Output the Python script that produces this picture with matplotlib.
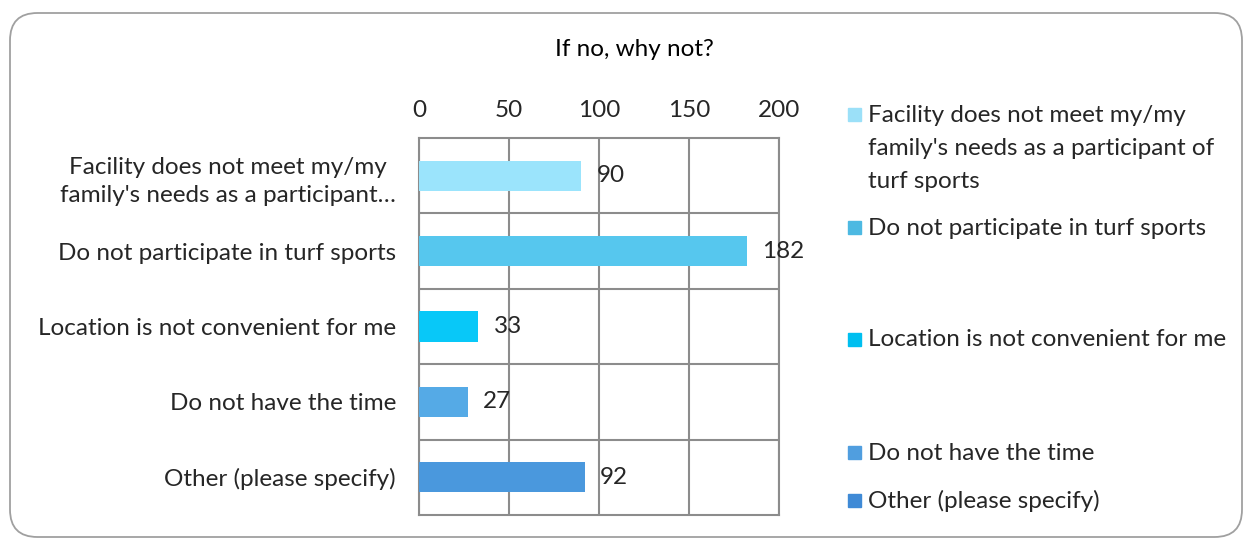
import matplotlib
matplotlib.use("Agg")
import matplotlib.pyplot as plt
from matplotlib.patches import FancyBboxPatch, Rectangle

# ---- data ----
categories = [
    "Facility does not meet my/my\nfamily's needs as a participant\u2026",
    "Do not participate in turf sports",
    "Location is not convenient for me",
    "Do not have the time",
    "Other (please specify)",
]
legend_labels = [
    "Facility does not meet my/my\nfamily's needs as a participant of\nturf sports",
    "Do not participate in turf sports",
    "Location is not convenient for me",
    "Do not have the time",
    "Other (please specify)",
]
values = [90, 182, 33, 27, 92]
x_ticks = [0, 50, 100, 150, 200]
title = "If no, why not?"

bar_colors = ["#9BE4FC", "#56C7EE", "#08C8F8", "#55AAE6", "#4A98DD"]
legend_colors = ["#9BE0F8", "#4DB9E2", "#00BFF0", "#509EDF", "#3F8AD6"]

plt.rcParams['font.family'] = ['Lato', 'DejaVu Sans']
FS = 17.5
TXT = "#262626"

W, H = 1246, 540
fig = plt.figure(figsize=(W / 100, H / 100), dpi=100)

# rounded frame
frame = FancyBboxPatch((10 / W, 3 / H), 1232 / W, 524 / H,
                       boxstyle="round,pad=0,rounding_size=0.022",
                       transform=fig.transFigure, fill=False,
                       edgecolor="#A0A0A0", linewidth=1.3,
                       mutation_aspect=W / H)
fig.patches.append(frame)

ax = fig.add_axes([419 / W, (H - 515) / H, 360 / W, 377 / H])
ypos = list(range(len(categories)))
ax.barh(ypos, values, height=0.4, color=bar_colors, zorder=3)
ax.set_xlim(0, 200)
ax.set_ylim(len(categories) - 0.5, -0.5)
ax.set_xticks(x_ticks)
ax.set_xticklabels([str(t) for t in x_ticks])
ax.xaxis.tick_top()
ax.tick_params(axis='x', length=0, pad=12, labelsize=FS, labelcolor=TXT)
ax.set_yticks(ypos)
ax.set_yticklabels(categories, multialignment='center', linespacing=1.45)
ax.tick_params(axis='y', length=0, pad=16.5, labelsize=FS, labelcolor=TXT)
ax.set_yticks([i + 0.5 for i in ypos[:-1]], minor=True)
ax.tick_params(axis='y', which='minor', length=0)
ax.grid(axis='x', which='major', color="#8C8C8C", linewidth=1.5, zorder=1)
ax.grid(axis='y', which='minor', color="#8C8C8C", linewidth=1.5, zorder=1)
for s in ax.spines.values():
    s.set_color("#8C8C8C")
    s.set_linewidth(1.5)

for y, v in zip(ypos, values):
    ax.annotate(str(v), (v, y), xytext=(11, 0), textcoords='offset points',
                ha='left', va='center', fontsize=FS, color=TXT, zorder=4)

fig.text(634 / W, 1 - 49 / H, title, ha='center', va='center',
         fontsize=FS, color="black")

# legend
legend_y = [115, 228, 340, 453, 501]
for lab, col, y in zip(legend_labels, legend_colors, legend_y):
    fig.patches.append(Rectangle((848 / W, 1 - (y + 6) / H), 13 / W, 13 / H,
                                 transform=fig.transFigure, color=col))
    for i, line in enumerate(lab.split("\n")):
        fig.text(868 / W, 1 - (y + 33 * i) / H, line, ha='left', va='center',
                 fontsize=FS, color=TXT)

fig.savefig("out.png", dpi=100, facecolor="white")
